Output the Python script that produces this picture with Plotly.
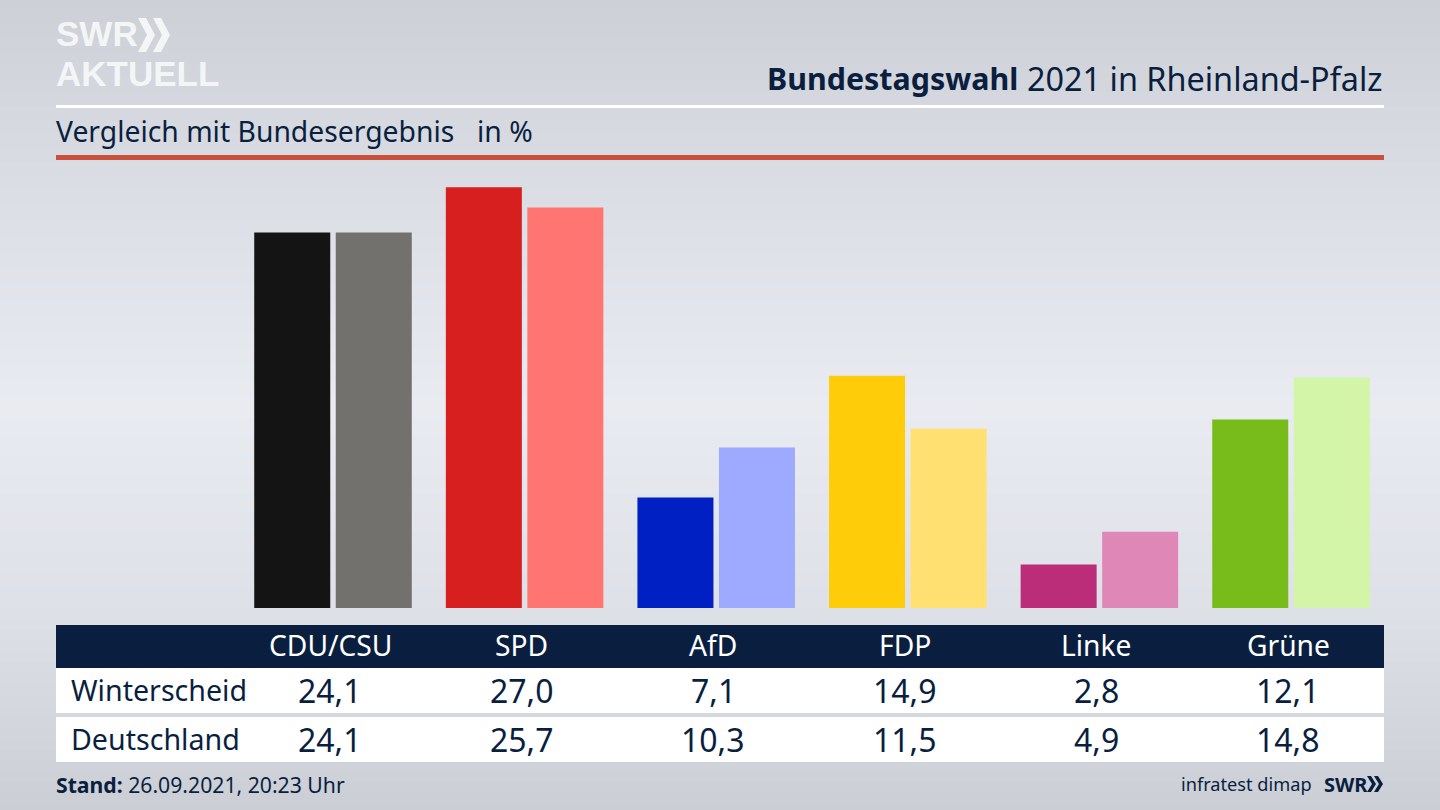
import plotly.graph_objects as go

W, H = 1440, 810
NAVY = "#0a1f3f"
FONT = "Noto Sans"
LOGO_FONT = "Liberation Sans"

# --- data ---
parties = ["CDU/CSU", "SPD", "AfD", "FDP", "Linke", "Grüne"]
winterscheid = [24.1, 27.0, 7.1, 14.9, 2.8, 12.1]
deutschland = [24.1, 25.7, 10.3, 11.5, 4.9, 14.8]
colors_w = ["#141414", "#d81f1f", "#0020c4", "#ffcc0a", "#bb2d78", "#78bc1c"]
colors_d = ["#72716e", "#ff7571", "#9daaff", "#ffe070", "#df88b7", "#d2f5a8"]
row_names = ["Winterscheid", "Deutschland"]
title_bold = "Bundestagswahl"
title_rest = "2021 in Rheinland-Pfalz"
subtitle = "Vergleich mit Bundesergebnis"
unit = "in %"

# background gradient stops (top to bottom)
bg_y = [0, 0.25, 0.5, 0.75, 1]
bg_z = [205, 220, 233, 222, 203]


def fx(px):
    return px / W


def fy(px):
    return 1 - px / H


def fmt(v):
    return f"{v:.1f}".replace(".", ",")


fig = go.Figure()

# background
fig.add_trace(go.Heatmap(
    x=[0, 1], y=bg_y, z=[[v, v] for v in bg_z], zsmooth="best", showscale=False,
    zmin=200, zmax=240, hoverinfo="skip",
    colorscale=[[0, "rgb(200,203,210)"], [1, "rgb(240,242,248)"]],
    xaxis="x", yaxis="y",
))

# bars
fig.add_trace(go.Bar(x=parties, y=winterscheid, name=row_names[0],
                     marker=dict(color=colors_w, line_width=0), xaxis="x2", yaxis="y2"))
fig.add_trace(go.Bar(x=parties, y=deutschland, name=row_names[1],
                     marker=dict(color=colors_d, line_width=0), xaxis="x2", yaxis="y2"))

TABLE_L, TABLE_R = 234.2, 1383.8
BAR_SHIFT = 3
BASE, TOP = 608, 160
SCALE = 15.58


def rect(x0, y0, x1, y1, color):
    return dict(type="rect", xref="paper", yref="paper", x0=fx(x0), x1=fx(x1),
                y0=fy(y0), y1=fy(y1), fillcolor=color, line_width=0, layer="above")


def chevron(x, y0, y1, w, t):
    xm = x + w
    ym = (y0 + y1) / 2
    pts = [(x, y0), (x + t, y0), (xm + t, ym), (x + t, y1), (x, y1), (xm, ym)]
    return "M " + " L ".join(f"{fx(a):.5f},{fy(b):.5f}" for a, b in pts) + " Z"


shapes = [
    rect(56, 105, 1384, 108, "#ffffff"),
    rect(56, 155, 1384, 160, "#c9503b"),
    rect(56, 625, 1384, 668, NAVY),
    rect(56, 668, 1384, 713, "#ffffff"),
    rect(56, 717, 1384, 762, "#ffffff"),
]
for cx, y0, y1, w, t, col in [(138, 18, 52, 9, 8, "#f4f5f7"), (153, 18, 52, 9, 8, "#f4f5f7"),
                              (1367, 776, 792, 5, 4, NAVY), (1374, 776, 792, 5, 4, NAVY)]:
    shapes.append(dict(type="path", xref="paper", yref="paper", path=chevron(cx, y0, y1, w, t),
                       fillcolor=col, line_width=0, layer="above"))


def label(px, py, text, size, color=NAVY, anchor="left", family=FONT):
    return dict(x=fx(px), y=fy(py), xref="paper", yref="paper", text=text, showarrow=False,
                xanchor=anchor, yanchor="middle", align=anchor,
                font=dict(family=family, size=size, color=color))


step = (TABLE_R - TABLE_L) / len(parties)
centers = [TABLE_L + step * (i + 0.5) for i in range(len(parties))]

ann = [
    label(1020, 78, f"<b>{title_bold}</b>", 30.4, anchor="right"),
    label(1385, 78, title_rest, 32.4, anchor="right"),
    label(54, 131, subtitle, 28.3),
    label(475, 131, unit, 28.3),
    label(54, 34, "<b>SWR</b>", 35, "#f4f5f7", family=LOGO_FONT),
    label(54, 74, "<b>AKTUELL</b>", 35, "#f4f5f7", family=LOGO_FONT),
    label(54, 784, "<b>Stand:</b> 26.09.2021, 20:23 Uhr", 21.2),
    label(1314, 784, "infratest dimap", 18.2, anchor="right"),
    label(1322, 784, "<b>SWR</b>", 20),
]
for i, p in enumerate(parties):
    ann.append(label(centers[i], 645, p, 28.2, "#ffffff", "center"))
    ann.append(label(centers[i], 690, fmt(winterscheid[i]), 32, NAVY, "center"))
    ann.append(label(centers[i], 739, fmt(deutschland[i]), 32, NAVY, "center"))
ann.append(label(68.5, 689.5, row_names[0], 28.6))
ann.append(label(68.5, 738.5, row_names[1], 28.6))

fig.update_layout(
    width=W, height=H, margin=dict(l=0, r=0, t=0, b=0),
    paper_bgcolor="#e0e2e8", plot_bgcolor="rgba(0,0,0,0)",
    showlegend=False, barmode="group", bargap=0.149, bargroupgap=0.0675,
    xaxis=dict(domain=[0, 1], range=[0, 1], visible=False, fixedrange=True),
    yaxis=dict(domain=[0, 1], range=[1, 0], visible=False, fixedrange=True),
    xaxis2=dict(domain=[fx(TABLE_L + BAR_SHIFT), fx(TABLE_R + BAR_SHIFT)], visible=False, type="category",
                categoryorder="array", categoryarray=parties, anchor="y2", range=[-0.5, 5.5]),
    yaxis2=dict(domain=[fy(BASE), fy(TOP)], visible=False, anchor="x2",
                range=[0, (BASE - TOP) / SCALE]),
    shapes=shapes, annotations=ann,
)

fig.write_html("out.html", config=dict(displayModeBar=False),
               post_script="document.body.style.margin='0';document.body.style.overflow='hidden';")
